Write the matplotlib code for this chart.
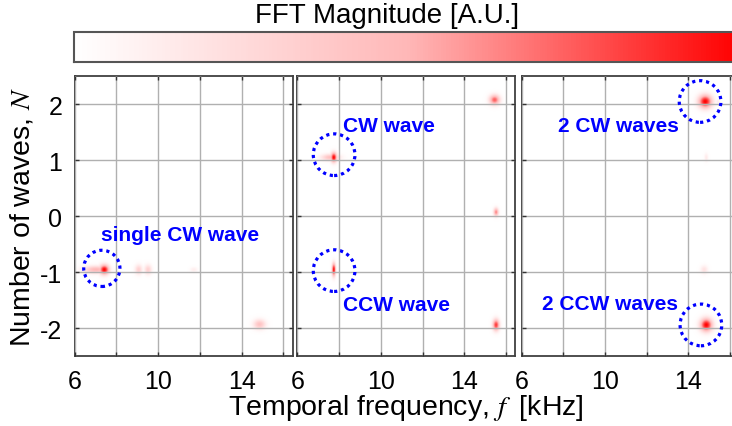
import numpy as np
import matplotlib
matplotlib.use("Agg")
import matplotlib.pyplot as plt
from matplotlib.colors import LinearSegmentedColormap

plt.rcParams['font.family'] = ['Liberation Sans', 'DejaVu Sans']
plt.rcParams['mathtext.fontset'] = 'stix'
plt.rcParams['axes.unicode_minus'] = False

# spectral peaks: frequency [kHz], mode number N, relative magnitude
p1_f = [7.4, 7.0, 9.05, 9.5, 11.7, 14.85]
p1_n = [-0.96, -0.96, -0.96, -0.96, -0.96, -1.94]
p1_amp = [1.0, 0.5, 0.32, 0.32, 0.12, 0.42]
p1_wf = [0.16, 0.4, 0.12, 0.12, 0.12, 0.2]
p1_wn = [0.06, 0.045, 0.06, 0.06, 0.03, 0.06]

p2_f = [7.76, 7.6, 7.76, 15.48, 15.55, 15.55]
p2_n = [1.05, 1.05, -0.96, 2.08, 0.07, -1.95]
p2_amp = [1.0, 0.45, 1.0, 0.75, 0.65, 0.85]
p2_wf = [0.1, 0.3, 0.06, 0.17, 0.08, 0.11]
p2_wn = [0.06, 0.04, 0.08, 0.06, 0.05, 0.07]

p3_f = [14.75, 15.35, 14.8, 14.7, 14.8]
p3_n = [2.05, 2.05, 1.05, -0.96, -1.95]
p3_amp = [1.0, 0.15, 0.15, 0.2, 1.0]
p3_wf = [0.22, 0.06, 0.06, 0.12, 0.2]
p3_wn = [0.08, 0.03, 0.05, 0.05, 0.08]

peaks = [(p1_f, p1_n, p1_amp, p1_wf, p1_wn),
         (p2_f, p2_n, p2_amp, p2_wf, p2_wn),
         (p3_f, p3_n, p3_amp, p3_wf, p3_wn)]

# annotation circles and labels
circ_f = [[7.3], [7.76, 7.76], [14.56, 14.6]]
circ_n = [[-0.93], [1.1, -0.97], [2.05, -1.94]]
circ_s = [680, 900, 900]
labels = [[("single CW wave", 11.05, -0.33, "center")],
          [("CW wave", 8.2, 1.63, "left"), ("CCW wave", 8.2, -1.57, "left")],
          [("2 CW waves", 13.52, 1.63, "right"), ("2 CCW waves", 13.52, -1.55, "right")]]

f_lim = (6, 16.45)
n_lim = (-2.5, 2.5)
xticks = [6, 8, 10, 12, 14, 16]
xticklabels = ["6", "", "10", "", "14", ""]
yticks = [-2, -1, 0, 1, 2]

cmap = LinearSegmentedColormap.from_list(
    "wr", [(0, (1, 1, 1)), (0.5, (1, 0.72, 0.72)), (1, (1, 0, 0))])

fgrid = np.linspace(f_lim[0], f_lim[1], 700)
ngrid = np.linspace(n_lim[0], n_lim[1], 400)
FF, NN = np.meshgrid(fgrid, ngrid)

fig = plt.figure(figsize=(7.32, 4.27), dpi=100)
W, H = 732.0, 427.0
lefts = [74.7, 297.4, 521.5]
axw = 218.0
bottom = 357.3
axh = 280.0

for i, (pf, pn, pa, wf, wn) in enumerate(peaks):
    ax = fig.add_axes([lefts[i] / W, (H - bottom) / H, axw / W, axh / H])
    Z = np.zeros_like(FF)
    for f0, n0, a, sf, sn in zip(pf, pn, pa, wf, wn):
        Z = np.maximum(Z, a * np.exp(-((FF - f0) / sf) ** 2 / 2 - ((NN - n0) / sn) ** 2 / 2))
    im = ax.imshow(Z, extent=[f_lim[0], f_lim[1], n_lim[0], n_lim[1]], origin="lower",
                   aspect="auto", cmap=cmap, vmin=0, vmax=1, interpolation="bilinear")
    ax.set_xlim(f_lim)
    ax.set_ylim(n_lim)
    ax.set_xticks(xticks)
    ax.set_xticklabels(xticklabels)
    ax.set_yticks(yticks)
    ax.grid(True, color="#b0b0b0", lw=1.0)
    ax.set_axisbelow(False)
    ax.tick_params(direction="in", length=3, width=1, color="#333333", top=True, right=True,
                   labelsize=18, pad=9)
    if i > 0:
        ax.set_yticklabels([])
    for sp in ax.spines.values():
        sp.set_color("#404040")
        sp.set_linewidth(1.3)
    ax.scatter(circ_f[i], circ_n[i], s=circ_s[i], facecolors="none", edgecolors="#0000ff",
               linewidths=2.3, linestyles=[(0, (1.0, 1.2))], zorder=5)
    for txt, x, y, ha in labels[i]:
        ax.text(x, y, txt, color="#0000ff", fontsize=15, fontweight="bold",
                ha=ha, va="center", zorder=6)

cax = fig.add_axes([74 / W, (H - 63) / H, 666 / W, 30 / H])
cb = fig.colorbar(im, cax=cax, orientation="horizontal")
cb.set_ticks([])
cb.outline.set_edgecolor("#555555")
cb.outline.set_linewidth(1.5)

fig.text(387 / W, 1 - 16 / H, "FFT Magnitude [A.U.]", ha="center", va="center", fontsize=20)
fig.text(406 / W, 1 - 408 / H, r"Temporal frequency, $f\;$ [kHz]", ha="center", va="center", fontsize=20.5)
fig.text(22 / W, 1 - 217 / H, r"Number of waves, $N$", ha="center", va="center",
         rotation=90, fontsize=20.5)

fig.savefig("out.png", dpi=100)
